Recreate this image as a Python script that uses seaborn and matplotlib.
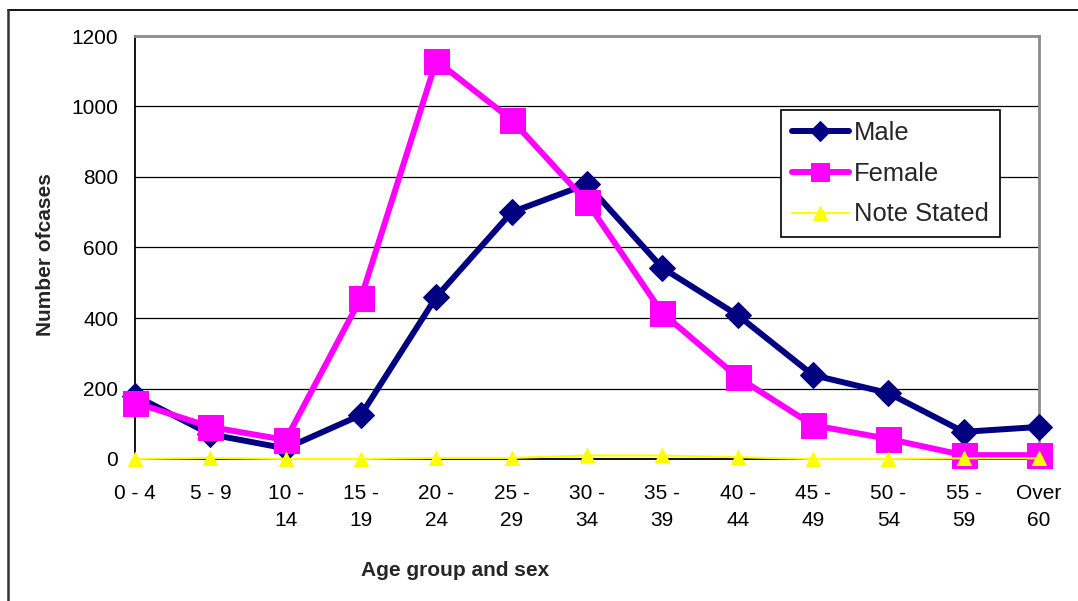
import numpy as np
import pandas as pd
import matplotlib
matplotlib.use("Agg")
import matplotlib.pyplot as plt
from matplotlib.lines import Line2D
import seaborn as sns

# ---- data ----
age_groups = ["0 - 4", "5 - 9", "10 -\n14", "15 -\n19", "20 -\n24", "25 -\n29",
              "30 -\n34", "35 -\n39", "40 -\n44", "45 -\n49", "50 -\n54",
              "55 -\n59", "Over\n60"]
male = [180, 70, 30, 125, 460, 700, 780, 542, 408, 238, 187, 77, 91]
female = [160, 91, 54, 457, 1130, 962, 729, 414, 232, 96, 57, 11, 11]
not_stated = [0, 3, 0, 0, 3, 3, 10, 10, 5, 0, 0, 2, 2]
y_ticks = [0, 200, 400, 600, 800, 1000, 1200]

sns.set_style("white")
plt.rcParams['font.family'] = ['Liberation Sans', 'DejaVu Sans']

W, H = 1078, 601
fig = plt.figure(figsize=(W / 100, H / 100), dpi=100)
L, R, T, B = 135, 1039, 36, 459
ax = fig.add_axes([L / W, 1 - B / H, (R - L) / W, (B - T) / H])

x = np.arange(len(age_groups))
df = pd.DataFrame({"x": x, "Male": male, "Female": female, "Note Stated": not_stated})

sns.lineplot(data=df, x="x", y="Male", ax=ax, color="#000080", lw=4.3,
             marker="D", markersize=13.5, markeredgecolor="#000080",
             label="Male", clip_on=False, zorder=3)
sns.lineplot(data=df, x="x", y="Female", ax=ax, color="#FF00FF", lw=4.3,
             marker="s", markersize=18, markeredgecolor="#FF00FF",
             label="Female", clip_on=False, zorder=4)
sns.lineplot(data=df, x="x", y="Note Stated", ax=ax, color="#FFFF00", lw=1.5,
             marker="^", markersize=10, markeredgecolor="#FFFF00",
             label="Note Stated", clip_on=False, zorder=5)

ax.set_xlim(0, len(age_groups) - 1)
ax.set_ylim(0, 1200)
ax.set_yticks(y_ticks)
ax.set_yticklabels([str(v) for v in y_ticks], fontsize=15)
ax.set_xticks(x)
ax.set_xticklabels(age_groups, fontsize=15, linespacing=1.55)
ax.tick_params(axis='y', direction='out', length=4, width=1, pad=8, colors='black')
ax.tick_params(axis='x', direction='out', length=4, width=1, pad=14, colors='black')
ax.yaxis.grid(True, color='black', lw=0.9)
ax.set_axisbelow(True)

for s in ['left', 'bottom']:
    ax.spines[s].set_color('black')
    ax.spines[s].set_linewidth(1.3)
for s in ['top', 'right']:
    ax.spines[s].set_color('#8c8c8c')
    ax.spines[s].set_linewidth(2)

ax.set_xlabel("Age group and sex", fontsize=15, fontweight='bold', ha='center', va='center')
ax.xaxis.set_label_coords((455 - L) / (R - L), (B - 570) / (B - T))
ax.set_ylabel("Number ofcases", fontsize=15, fontweight='bold', ha='center', va='center')
ax.yaxis.set_label_coords((46 - L) / (R - L), (B - 255) / (B - T))

leg = ax.legend(loc='upper left', bbox_to_anchor=((781 - L) / (R - L), (B - 110) / (B - T)),
                borderaxespad=0, fontsize=18.4, frameon=True, fancybox=False,
                edgecolor='black', framealpha=1, handlelength=2.25,
                handletextpad=0.2, labelspacing=0.66, borderpad=0.42)
leg.get_frame().set_linewidth(1.2)
for h, ms in zip(leg.legend_handles, [10, 13, 10]):
    h.set_markersize(ms)

# outer chart border (top and left visible)
fig.add_artist(Line2D([8 / W, 1.0], [1 - 10 / H, 1 - 10 / H], color='#111111', lw=1.4))
fig.add_artist(Line2D([8 / W, 8 / W], [0, 1 - 10 / H], color='#333333', lw=1.8))

fig.savefig("out.png", dpi=100)
